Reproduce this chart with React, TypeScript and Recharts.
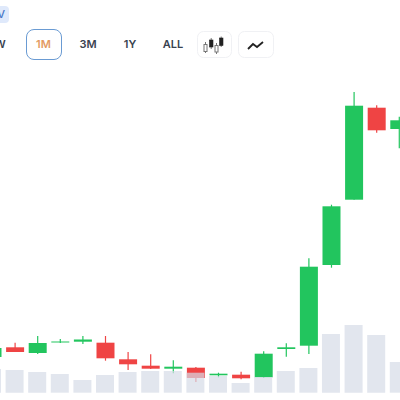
import React from "react";
import { ComposedChart, Bar, XAxis, YAxis } from "recharts";

const days = ["d0","d1","d2","d3","d4","d5","d6","d7","d8","d9","d10","d11","d12","d13","d14","d15","d16","d17","d18"];
const opens = [43,52.7,47,57.5,58.3,57.3,40.7,34.3,31.3,32.3,24.7,25.3,22.7,51,54.3,135,200.3,292.3,271];
const closes = [52,48,57,58.5,60.5,41.7,35.7,31.3,33.3,22,26.3,21.7,46.3,52.7,133.3,193.7,294.3,269.7,279.7];
const highs = [55,57.3,64,61,64,64,48,45.7,39.7,33,27.3,28.3,48.7,56.7,141.7,195.3,308,294.7,283.3];
const lows = [43,48,46,57,56,39.3,30,31,26.7,18,22.7,20.7,22,43.3,46,132.3,200.3,267.3,251.7];
const volumes = [23.7,22.7,20.7,18.7,12.7,17.7,20.7,21.7,21.7,20,16.7,9.7,15.7,21.7,24.7,58.7,67.7,57.7,30.7];

const GREEN = "#22c55e";
const RED = "#ef4444";

const data = days.map((d, i) => ({
  d,
  open: opens[i],
  close: closes[i],
  range: [lows[i], highs[i]],
  volume: volumes[i],
}));

const Candle = (props: any) => {
  const { x, y, width, height, payload } = props;
  const hi = payload.range[1];
  const lo = payload.range[0];
  const perUnit = hi === lo ? 0 : height / (hi - lo);
  const top = Math.max(payload.open, payload.close);
  const bottom = Math.min(payload.open, payload.close);
  const up = payload.close >= payload.open;
  const color = up ? GREEN : RED;
  const cx = x + width / 2;
  const bodyY = y + (hi - top) * perUnit;
  const bodyH = Math.max((top - bottom) * perUnit, 1);
  return (
    <g>
      <line x1={cx} x2={cx} y1={y} y2={y + height} stroke={color} strokeWidth={1.2} />
      <rect x={cx - 9} y={bodyY} width={18} height={bodyH} fill={color} />
    </g>
  );
};

const tabs = ["W", "1M", "3M", "1Y", "ALL"];
const tabCenters = [0, 43.5, 88, 130, 173];

export default function App() {
  return (
    <div style={{ position: "fixed", left: 0, top: 0, width: 400, height: 400, overflow: "hidden", background: "#fff", fontFamily: "Inter, sans-serif" }}>
      <div style={{ position: "absolute", left: -20, top: 6, width: 29, height: 17, borderRadius: 4, background: "#dfe9fb", color: "#4a78c8", fontSize: 11, fontWeight: 500, lineHeight: "17px", textAlign: "right", paddingRight: 4, boxSizing: "border-box" }}>V</div>
      <div style={{ position: "absolute", left: 26, top: 29, width: 36, height: 31, boxSizing: "border-box", border: "1.5px solid #6a9bd3", borderRadius: 8 }} />
      {tabs.map((t, i) => (
        <div key={t} style={{ position: "absolute", left: tabCenters[i] - 20, width: 40, top: 37, textAlign: "center", fontSize: 11, fontWeight: 600, lineHeight: "15px", color: t === "1M" ? "#e39a62" : "#39424f" }}>{t}</div>
      ))}
      <svg style={{ position: "absolute", left: 0, top: 0 }} width="400" height="70">
        <rect x="197.5" y="31.5" width="34" height="26" rx="6" fill="#fff" stroke="#f0f1f4" />
        <rect x="238.5" y="31.5" width="35" height="26" rx="6" fill="#fff" stroke="#f0f1f4" />
        <g stroke="#777" fill="none" strokeWidth="1">
          <rect x="204" y="44.5" width="3" height="7" />
          <line x1="205.5" y1="42" x2="205.5" y2="44.5" />
          <line x1="205.5" y1="51.5" x2="205.5" y2="53" />
          <rect x="215" y="45.5" width="3" height="6.5" />
          <line x1="216.5" y1="43" x2="216.5" y2="45.5" />
          <line x1="216.5" y1="52" x2="216.5" y2="54" />
        </g>
        <g fill="#222" stroke="#222" strokeWidth="0.6">
          <rect x="209.5" y="40" width="3.5" height="7" />
          <line x1="211.2" y1="38" x2="211.2" y2="49" />
          <rect x="219.5" y="38" width="3.5" height="7.5" />
          <line x1="221.2" y1="36.5" x2="221.2" y2="47" />
        </g>
        <polyline points="248,49 253,44 257,47 263,42" fill="none" stroke="#222" strokeWidth="1.8" />
      </svg>
      <div style={{ position: "absolute", left: -18.9, top: 0 }}>
        <ComposedChart width={429.4} height={400} data={data} margin={{ top: 0, right: 0, bottom: 0, left: 0 }} barCategoryGap={0}>
          <XAxis xAxisId="c" dataKey="d" hide />
          <XAxis xAxisId="v" dataKey="d" hide />
          <YAxis yAxisId="price" hide domain={[0, 400]} />
          <YAxis yAxisId="vol" hide domain={[-7.3, 392.7]} />
          <Bar xAxisId="c" yAxisId="price" dataKey="range" shape={<Candle />} isAnimationActive={false} />
          <Bar xAxisId="v" yAxisId="vol" dataKey="volume" fill="#d5dbe7" fillOpacity={0.7} barSize={18} isAnimationActive={false} />
        </ComposedChart>
      </div>
    </div>
  );
}
